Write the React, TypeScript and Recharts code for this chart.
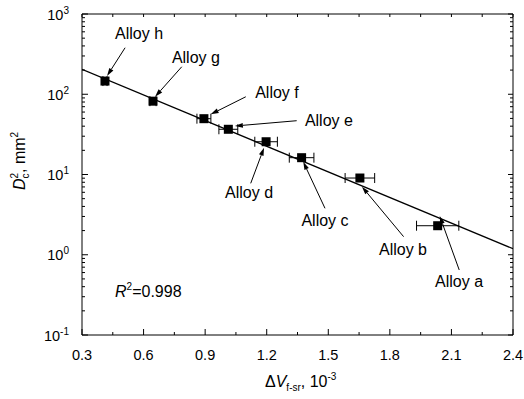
import React from "react";
import {
  ComposedChart, Scatter, Line, XAxis, YAxis, ErrorBar,
  ReferenceLine, ReferenceDot, Label
} from "recharts";

const FONT = '"Liberation Sans", Arial, Helvetica, sans-serif';

// measured alloys (a..h)
const alloyNames = ["Alloy a", "Alloy b", "Alloy c", "Alloy d", "Alloy e", "Alloy f", "Alloy g", "Alloy h"];
const deltaV = [2.033, 1.654, 1.37, 1.197, 1.013, 0.894, 0.646, 0.412];
const dc2 = [2.3, 9.04, 16.2, 25.6, 36.6, 49.6, 82, 146];
const deltaVErr = [0.103, 0.072, 0.06, 0.055, 0.046, 0.034, 0.015, 0.01];

// linear fit in log space
const fitX = [0.3, 2.4];
const fitY = [204, 1.19];

// annotation anchors (label centre, arrow tail, arrow tip) in data units
const labelX = [2.137, 1.864, 1.484, 1.114, 1.503, 1.25, 0.855, 0.578];
const labelY = [0.471, 1.18, 2.7, 6.05, 47.7, 105, 291, 571];
const arrowFromX = [2.138, 1.867, 1.484, 1.122, 1.346, 1.098, 0.786, 0.51];
const arrowFromY = [0.646, 1.68, 3.79, 7.76, 46.8, 93, 220, 380];
const arrowToX = [2.043, 1.664, 1.378, 1.187, 1.045, 0.927, 0.656, 0.422];
const arrowToY = [3.04, 7.05, 14.4, 21.6, 40.2, 56.2, 93, 169];

const xTicks = [0.3, 0.6, 0.9, 1.2, 1.5, 1.8, 2.1, 2.4];
const xMinorTicks = [0.45, 0.75, 1.05, 1.35, 1.65, 1.95, 2.25];
const yTicks = [0.1, 1, 10, 100, 1000];
const yMinorTicks = [
  0.2, 0.3, 0.4, 0.5, 0.6, 0.7, 0.8, 0.9,
  2, 3, 4, 5, 6, 7, 8, 9,
  20, 30, 40, 50, 60, 70, 80, 90,
  200, 300, 400, 500, 600, 700, 800, 900,
];

const points = deltaV.map((x, i) => ({ x, y: dc2[i], ex: deltaVErr[i] }));
const fitLine = fitX.map((x, i) => ({ x, y: fitY[i] }));

const YTick = (p: any) => {
  const exp = Math.round(Math.log10(p.payload.value));
  return (
    <text x={p.x} y={p.y} dy={5.5} textAnchor="end" fontSize={14.5} fontFamily={FONT} fill="#000">
      10<tspan dy={-6} fontSize={10}>{exp}</tspan>
    </text>
  );
};

const Square = (p: any) => (
  <rect x={p.cx - 4.5} y={p.cy - 4.5} width={9} height={9} fill="#000" />
);

const ok = (...v: any[]) => v.every((n) => typeof n === "number" && !isNaN(n));

const Arrow = (p: any) => {
  const { x1, y1, x2, y2 } = p;
  if (!ok(x1, y1, x2, y2)) return null;
  const a = Math.atan2(y2 - y1, x2 - x1);
  const L = 8, W = 2.4;
  const bx = x2 - L * Math.cos(a), by = y2 - L * Math.sin(a);
  const px = -Math.sin(a) * W, py = Math.cos(a) * W;
  return (
    <g>
      <line x1={x1} y1={y1} x2={bx} y2={by} stroke="#000" strokeWidth={1} />
      <polygon points={`${x2},${y2} ${bx + px},${by + py} ${bx - px},${by - py}`} fill="#000" />
    </g>
  );
};

// inward tick marks at both ends of a full-height / full-width reference line
const xTickMark = (bottomLen: number, topLen: number) => (p: any) => {
  const { x1, y1, x2, y2 } = p;
  if (!ok(x1, y1, x2, y2)) return null;
  const yb = Math.max(y1, y2), yt = Math.min(y1, y2);
  return (
    <g stroke="#000" strokeWidth={1}>
      <line x1={x1} x2={x1} y1={yb} y2={yb - bottomLen} />
      <line x1={x1} x2={x1} y1={yt} y2={yt + topLen} />
    </g>
  );
};

const yTickMark = (leftLen: number, rightLen: number) => (p: any) => {
  const { x1, y1, x2, y2 } = p;
  if (!ok(x1, y1, x2, y2)) return null;
  const xl = Math.min(x1, x2), xr = Math.max(x1, x2);
  return (
    <g stroke="#000" strokeWidth={1}>
      <line x1={xl} x2={xl + leftLen} y1={y1} y2={y1} />
      <line x1={xr} x2={xr - rightLen} y1={y1} y2={y1} />
    </g>
  );
};

const textShape = (txt: string) => (p: any) => (
  <text x={p.cx} y={p.cy} dy="0.35em" textAnchor="middle" fontSize={16} fontFamily={FONT} fill="#000">
    {txt}
  </text>
);

const R2Shape = (p: any) => (
  <text x={p.cx} y={p.cy} fontSize={16} fontFamily={FONT} fill="#000">
    <tspan fontStyle="italic">R</tspan>
    <tspan fontSize={10} dy={-7}>2</tspan>
    <tspan dy={7}>=0.998</tspan>
  </text>
);

const YTitle = () => (
  <text x={25} y={161} transform="rotate(-90, 25, 161)" textAnchor="middle" fontSize={16} fontFamily={FONT} fill="#000">
    <tspan fontStyle="italic">D</tspan>
    <tspan fontSize={10} dy={4}>c</tspan>
    <tspan fontSize={10} dx={-5} dy={-11}>2</tspan>
    <tspan dy={7}>, mm</tspan>
    <tspan fontSize={10} dy={-7}>2</tspan>
  </text>
);

const XTitle = () => (
  <text x={265} y={387} fontSize={16} fontFamily={FONT} fill="#000">
    Δ<tspan fontStyle="italic">V</tspan>
    <tspan fontSize={10} dy={4}>f-sr</tspan>
    <tspan dy={-4}>, 10</tspan>
    <tspan fontSize={10} dy={-7}>-3</tspan>
  </text>
);

const ax = { stroke: "#000", strokeWidth: 1 };

export default function App() {
  return (
    <div style={{ position: "absolute", left: 0, top: 0, background: "#fff" }}>
      <ComposedChart width={524} height={399} margin={{ top: 14, right: 11, bottom: 0, left: 0 }}>
        <XAxis xAxisId="b" type="number" dataKey="x" domain={[0.3, 2.4]} ticks={xTicks} allowDataOverflow
          height={64} tickLine={false} tickSize={0} tickMargin={15} axisLine={ax}
          tick={{ fontSize: 14.5, fill: "#000", fontFamily: FONT }}
          tickFormatter={(v: number) => v.toFixed(1)}>
          <Label content={XTitle} />
        </XAxis>
        <YAxis yAxisId="l" type="number" scale="log" domain={[0.1, 1000]} ticks={yTicks} allowDataOverflow
          width={82} tickLine={false} tickSize={0} tickMargin={13} axisLine={ax} tick={YTick}>
          <Label content={YTitle} />
        </YAxis>

        {/* frame: top and right */}
        <ReferenceLine xAxisId="b" yAxisId="l" y={1000} stroke="#000" strokeWidth={1} ifOverflow="visible" />
        <ReferenceLine xAxisId="b" yAxisId="l" x={2.4} stroke="#000" strokeWidth={1} ifOverflow="visible" />

        {/* inward tick marks */}
        {xTicks.map((v) => (
          <ReferenceLine key={"xM" + v} xAxisId="b" yAxisId="l" x={v} ifOverflow="visible" shape={xTickMark(6, 3)} />
        ))}
        {xMinorTicks.map((v) => (
          <ReferenceLine key={"xm" + v} xAxisId="b" yAxisId="l" x={v} ifOverflow="visible" shape={xTickMark(3, 3)} />
        ))}
        {yTicks.map((v) => (
          <ReferenceLine key={"yM" + v} xAxisId="b" yAxisId="l" y={v} ifOverflow="visible" shape={yTickMark(6, 5)} />
        ))}
        {yMinorTicks.map((v) => (
          <ReferenceLine key={"ym" + v} xAxisId="b" yAxisId="l" y={v} ifOverflow="visible" shape={yTickMark(3, 3)} />
        ))}

        <Line xAxisId="b" yAxisId="l" data={fitLine} dataKey="y" type="linear" stroke="#000" strokeWidth={1.3}
          dot={false} activeDot={false} isAnimationActive={false} />

        <Scatter xAxisId="b" yAxisId="l" data={points} dataKey="y" shape={Square} isAnimationActive={false}>
          <ErrorBar dataKey="ex" direction="x" width={5} stroke="#000" strokeWidth={1} isAnimationActive={false} />
        </Scatter>

        {alloyNames.map((n, i) => (
          <ReferenceLine key={"ar" + n} xAxisId="b" yAxisId="l" ifOverflow="visible"
            segment={[{ x: arrowFromX[i], y: arrowFromY[i] }, { x: arrowToX[i], y: arrowToY[i] }]}
            shape={Arrow} />
        ))}
        {alloyNames.map((n, i) => (
          <ReferenceDot key={"lb" + n} xAxisId="b" yAxisId="l" x={labelX[i]} y={labelY[i]} ifOverflow="visible"
            shape={textShape(n)} />
        ))}
        <ReferenceDot xAxisId="b" yAxisId="l" x={0.461} y={0.3} ifOverflow="visible" shape={R2Shape} />
      </ComposedChart>
    </div>
  );
}
